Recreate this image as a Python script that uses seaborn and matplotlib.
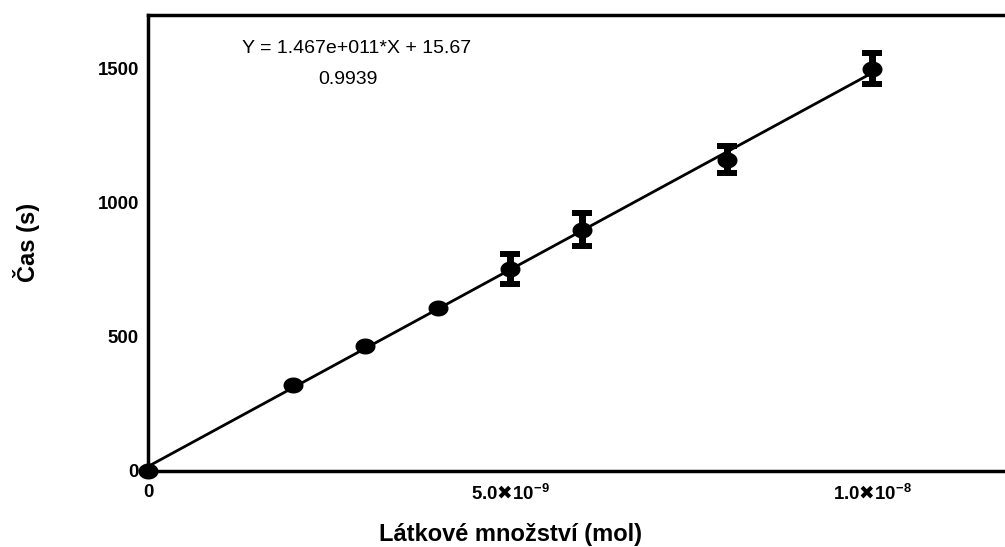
import numpy as np
import pandas as pd
import matplotlib
matplotlib.use("Agg")
import matplotlib.pyplot as plt
from matplotlib.path import Path
import seaborn as sns

# Measured amounts (mol) and mean times (s) with their error bars
amount_mol = [0, 2e-9, 3e-9, 4e-9, 5e-9, 6e-9, 8e-9, 1e-8]
time_s = [0, 320, 466, 608, 752, 899, 1160, 1498]
time_err = [0, 0, 0, 0, 57, 62, 50, 58]

# Linear regression results
fit_slope = 1.467e11
fit_intercept = 15.67
fit_r2 = 0.9939

x_ticks = [0, 5e-9, 1e-8]
x_tick_labels = ["0",
                 r"5.0$\mathrm{✖}$10$^{\mathbf{-9}}$",
                 r"1.0$\mathrm{✖}$10$^{\mathbf{-8}}$"]
y_ticks = [0, 500, 1000, 1500]
y_tick_labels = ["0", "500", "1000", "1500"]

x_label = "Látkové množství (mol)"
y_label = "Čas (s)"

sns.set_theme(style="white")
plt.rcParams["font.family"] = ["Liberation Sans", "DejaVu Sans"]
plt.rcParams.update({
    "text.color": "black",
    "axes.labelcolor": "black",
    "xtick.color": "black",
    "ytick.color": "black",
    "mathtext.fontset": "custom",
    "mathtext.rm": "DejaVu Sans:bold",
    "mathtext.bf": "Liberation Sans:bold",
    "mathtext.default": "bf",
})

W, H = 1005, 547
fig = plt.figure(figsize=(W / 100, H / 100), dpi=100)
ax = fig.add_axes([148 / W, 76.3 / H, 868.8 / W, 456 / H])

df = pd.DataFrame({"amount": amount_mol, "time": time_s, "err": time_err})

# regression line over the measured range
fit_x = np.array([0.0, max(amount_mol)])
fit_df = pd.DataFrame({"x": fit_x, "y": fit_slope * fit_x + fit_intercept})
sns.lineplot(data=fit_df, x="x", y="y", color="black", lw=2.0, ax=ax, zorder=2)

# elliptical filled markers
theta = np.linspace(0, 2 * np.pi, 65)
ellipse = Path(np.column_stack([np.cos(theta), 0.8 * np.sin(theta)]), closed=True)
sns.scatterplot(data=df, x="amount", y="time", marker=ellipse, s=14.4 ** 2,
                color="black", edgecolor="black", linewidth=0, ax=ax,
                zorder=4, clip_on=False)

# error bars where the spread is visible
err_df = df[df["err"] > 0]
ax.errorbar(err_df["amount"], err_df["time"], yerr=err_df["err"], fmt="none",
            ecolor="black", elinewidth=5, capsize=7.2, capthick=4.3, zorder=3)

ax.set_xlim(0, 1.2e-8)
ax.set_ylim(0, 1700)
ax.set_xticks(x_ticks, x_tick_labels)
ax.set_yticks(y_ticks, y_tick_labels)
ax.set_xlabel("")
ax.set_ylabel("")

ax.tick_params(axis="x", direction="in", length=4.5, width=2, colors="black",
               labelsize=13.4, pad=9.5)
ax.tick_params(axis="y", direction="in", length=7, width=2, colors="black",
               labelsize=13.4, pad=6.5)
for lbl in ax.get_xticklabels() + ax.get_yticklabels():
    lbl.set_fontweight("bold")

for side in ["left", "bottom", "top"]:
    ax.spines[side].set_visible(True)
    ax.spines[side].set_color("black")
    ax.spines[side].set_linewidth(2.5)
ax.spines["right"].set_visible(False)

fig.text(510 / W, 1 - 534 / H, x_label, ha="center", va="center",
         fontsize=17, fontweight="bold")
fig.text(27 / W, 1 - 242 / H, y_label, ha="center", va="center",
         rotation=90, fontsize=17, fontweight="bold")

mant, expo = f"{fit_slope:.3e}".split("e")
equation = f"Y = {mant}e{int(expo):+04d}*X + {fit_intercept:.2f}"
fig.text(357 / W, 1 - 48.3 / H, equation, ha="center", va="center", fontsize=14)
fig.text(348 / W, 1 - 80 / H, f"{fit_r2:.4f}", ha="center", va="center", fontsize=14)

fig.savefig("out.png", dpi=100, facecolor="white")
